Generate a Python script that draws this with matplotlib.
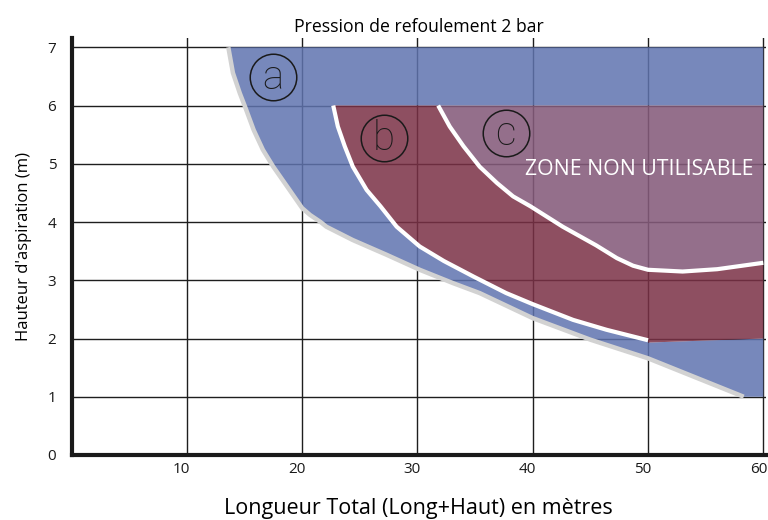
import matplotlib
matplotlib.use("Agg")
import matplotlib.pyplot as plt
from matplotlib.transforms import ScaledTranslation

plt.rcParams["font.family"] = ["Open Sans", "DejaVu Sans"]

# --- limites lues sur l'abaque ---------------------------------------------
# courbe (a) : limite grise
a_x = [13.6, 14.0, 14.6, 15.05, 15.8, 16.6, 17.5, 18.7, 20.0, 20.7, 21.6,
       22.1, 24.4, 27.3, 30.2, 33.1, 35.4, 40.0, 45.0, 50.0, 58.3]
a_y = [7.0, 6.56, 6.21, 5.98, 5.58, 5.24, 4.95, 4.61, 4.24, 4.12, 4.0,
       3.92, 3.69, 3.44, 3.18, 2.95, 2.78, 2.35, 1.98, 1.66, 1.0]
# courbe (b) : limite blanche
b_x = [22.7, 23.1, 23.7, 24.4, 25.6, 26.8, 28.2, 30.2, 32.3, 34.9, 37.7,
       40.0, 43.5, 46.4, 50.0]
b_y = [6.0, 5.64, 5.30, 4.95, 4.55, 4.27, 3.92, 3.58, 3.33, 3.06, 2.78,
       2.59, 2.32, 2.15, 1.97]
# courbe (c) : limite blanche
c_x = [31.8, 32.8, 34.0, 35.4, 36.9, 38.3, 39.8, 42.6, 45.5, 47.3, 48.7,
       50.0, 53.0, 56.0, 60.0]
c_y = [6.0, 5.64, 5.30, 4.95, 4.67, 4.44, 4.27, 3.92, 3.60, 3.38, 3.25,
       3.18, 3.15, 3.19, 3.30]
# bas de la zone (b) entre 50 et 60 m
b_bas_x = [50.0, 60.0]
b_bas_y = [1.93, 2.0]

X_MAX, Y_MAX = 60.0, 7.0
Y_B_HAUT = 6.0
Y_A_BAS = 1.0

x_ticks = [10, 20, 30, 40, 50, 60]
y_ticks = [0, 1, 2, 3, 4, 5, 6, 7]

etiquettes = ["a", "b", "c"]
etiq_x = [17.45, 27.08, 37.66]
etiq_y = [6.49, 5.44, 5.53]

BLEU = "#5F73AF"
ROUGE = "#7A3045"
MAUVE = "#855B7B"
ALPHA = 0.85

fig = plt.figure(figsize=(7.68, 5.2), dpi=100)
ax = fig.add_axes([0.0931, 0.125, 0.9038, 0.802])
ax.set_xlim(0, 60.2)
ax.set_ylim(0, 7.16)

# grille
for xv in x_ticks:
    ax.axvline(xv, color="#1e1e1e", lw=1.0, zorder=1)
for yv in y_ticks[1:]:
    ax.axhline(yv, color="#1e1e1e", lw=1.0, zorder=1)

# zone (a) : entre la courbe grise et la courbe (b)
poly_a_x = [a_x[0], X_MAX, X_MAX] + b_x + b_bas_x + [X_MAX] + a_x[::-1]
poly_a_y = [Y_MAX, Y_MAX, Y_B_HAUT] + b_y + b_bas_y + [Y_A_BAS] + a_y[::-1]
ax.fill(poly_a_x, poly_a_y, color=BLEU, alpha=ALPHA, lw=0, zorder=2)

# zone (b) : entre la courbe (b) et la courbe (c)
poly_b_x = b_x + b_bas_x + c_x[::-1]
poly_b_y = b_y + b_bas_y + c_y[::-1]
ax.fill(poly_b_x, poly_b_y, color=ROUGE, alpha=ALPHA, lw=0, zorder=2)

# zone (c) : non utilisable
poly_c_x = c_x + [X_MAX]
poly_c_y = c_y + [Y_B_HAUT]
ax.fill(poly_c_x, poly_c_y, color=MAUVE, alpha=0.88, lw=0, zorder=2)

ax.plot(a_x, a_y, color="#d2d2d2", lw=3.2, solid_capstyle="butt",
        solid_joinstyle="round", zorder=3)
ax.plot(b_x, b_y, color="white", lw=3.0, solid_capstyle="butt",
        solid_joinstyle="round", zorder=3)
ax.plot(c_x, c_y, color="white", lw=3.0, solid_capstyle="butt",
        solid_joinstyle="round", zorder=3)

for lab, xe, ye in zip(etiquettes, etiq_x, etiq_y):
    ax.plot([xe], [ye], marker="o", ms=33.5, mfc="none", mec="#1a1a1a",
            mew=1.1, zorder=4)
    ax.text(xe, ye - 0.2, lab, fontsize=29, fontweight="light",
            family=["Roboto", "Open Sans", "DejaVu Sans"],
            color="#1a1a1a", ha="center", va="baseline", zorder=5)

ax.text(49.2, 4.905, "ZONE NON UTILISABLE", color="white", fontsize=15.3,
        ha="center", va="center", zorder=5)

# axes
for s in ["top", "right"]:
    ax.spines[s].set_visible(False)
for s in ["left", "bottom"]:
    ax.spines[s].set_linewidth(3)
    ax.spines[s].set_color("#1a1a1a")
    ax.spines[s].set_zorder(6)

ax.set_xticks(x_ticks)
ax.set_yticks(y_ticks)
ax.tick_params(axis="both", length=0, labelsize=11, colors="#1a1a1a")
ax.tick_params(axis="y", pad=11)
ax.tick_params(axis="x", pad=5)
decalage = ScaledTranslation(-5 / 100, 0, fig.dpi_scale_trans)
for t in ax.get_xticklabels():
    t.set_transform(t.get_transform() + decalage)

ax.set_title("Pression de refoulement 2 bar", fontsize=12.7, pad=4)
ax.set_xlabel("Longueur Total (Long+Haut) en mètres", fontsize=15.5, labelpad=15)
ax.set_ylabel("Hauteur d'aspiration (m)", fontsize=12, labelpad=11)

fig.savefig("out.png", dpi=100)
